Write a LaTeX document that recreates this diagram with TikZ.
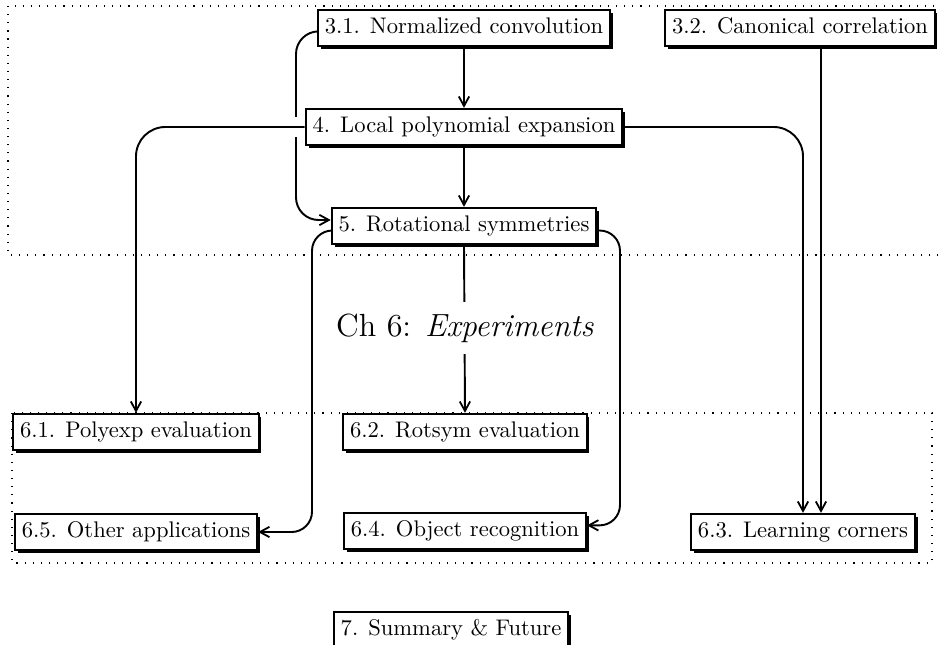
\documentclass[tikz,border=0pt]{standalone}
\usetikzlibrary{shadows,calc,arrows.meta}
\begin{document}
\begin{tikzpicture}[x=0.443pt,y=-0.443pt,
  box/.style={draw, line width=1pt, fill=white, inner xsep=3pt, inner ysep=3.5pt,
    text height=7pt, text depth=2pt,
    drop shadow={shadow xshift=1.2pt, shadow yshift=-1.2pt, fill=black, opacity=1}},
  conn/.style={line width=0.85pt, -{Straight Barb[length=4.2pt,width=4.6pt,line width=0.8pt]}, rounded corners=13pt},
  frame/.style={line width=0.5pt, dash pattern=on 0.5pt off 3.1pt}]
\clip (0,0) rectangle (941,645);
\draw[frame] (8,6) rectangle (990,255);
\draw[frame] (12,413) rectangle (932,563);
% coordinates for routing
\coordinate (cA) at (296,220);
\coordinate (cC) at (821,0);
\coordinate (cD) at (312,0);
\coordinate (cE) at (620,0);
% nodes
\node[box] (n31) at (464,28) {3.1. Normalized convolution};
\node[box] (n32) at (800,28) {3.2. Canonical correlation};
\node[box] (n4) at (464,127) {4. Local polynomial expansion};
\node[box] (n5) at (464,226) {5. Rotational symmetries};
\node[box] (n61) at (136,432) {6.1. Polyexp evaluation};
\node[box] (n62) at (465,432) {6.2. Rotsym evaluation};
\node[box] (n65) at (136,532) {6.5. Other applications};
\node[box] (n64) at (465,531) {6.4. Object recognition};
\node[box] (n63) at (803,532) {6.3. Learning corners};
\node[box] (n7) at (451,630) {7. Summary \& Future};
% connectors
\draw[conn] (n31.south) -- (n4.north);
\draw[conn] (n4.south) -- (n5.north);
\draw[conn] (n5.south) -- (n62.north);
\draw[conn, rounded corners=10pt] ([yshift=-1.5pt]n31.west) -| (cA) -- (cA -| n5.west);
\draw[white, line width=9pt] ([xshift=-1.5pt]n4.west) -- ([xshift=-30pt]n4.west);
\draw[conn] (n4.west) -| (n61.north);
\draw[conn] (n4.east) -| (n63.north);
\draw[conn] (n32.south -| cC) -- (n63.north -| cC);
\draw[conn, rounded corners=9pt] ([yshift=-2pt]n5.west) -| (cD |- n65.east) -- (n65.east);
\draw[conn, rounded corners=9pt] ([yshift=-2pt]n5.east) -| ([yshift=2.5pt]cE |- n64.east) -- ([yshift=2.5pt]n64.east);
% label
\node[fill=white, font=\fontsize{14.2}{17}\selectfont, inner xsep=3pt, inner ysep=5pt] (lab) at (465,328) {Ch 6: \textit{Experiments}};
\end{tikzpicture}
\end{document}
